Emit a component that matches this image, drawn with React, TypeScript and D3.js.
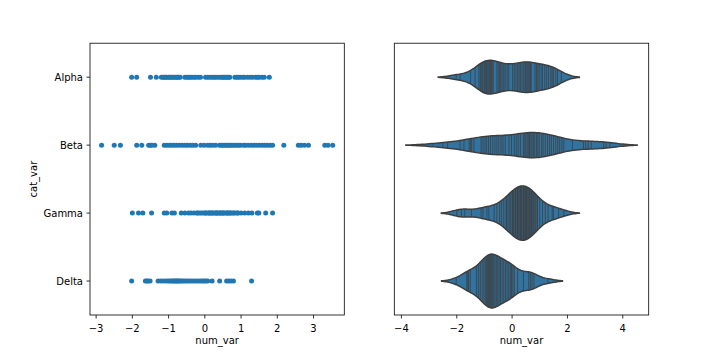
import React from "react";
import * as d3 from "d3";

const categories = ["Alpha", "Beta", "Gamma", "Delta"];

const alphaValues = [
  -2.02, -1.88, -1.5, -1.34,
  -1.2, -1.15, -1.12, -1.08, -1.05, -1.0, -0.97, -0.93, -0.9, -0.86, -0.82, -0.78, -0.75, -0.72, -0.68,
  -0.55, -0.5, -0.45, -0.41, -0.36, -0.3, -0.25, -0.18, -0.12,
  0.02, 0.08, 0.14, 0.2, 0.25, 0.3, 0.36, 0.42, 0.47, 0.5, 0.54, 0.58, 0.62, 0.66, 0.69,
  0.83, 0.88, 0.93, 0.98, 1.05, 1.1, 1.18, 1.25, 1.32, 1.4, 1.45, 1.5, 1.58, 1.64,
  1.78,
];

const betaValues = [
  -2.85, -2.5, -2.33, -1.88, -1.74, -1.55, -1.5, -1.46, -1.38,
  -1.12, -1.05, -0.98, -0.92, -0.85, -0.78, -0.7, -0.62, -0.55, -0.48, -0.4, -0.33, -0.25,
  -0.11, -0.02, 0.08, 0.15, 0.22, 0.3,
  0.41, 0.46, 0.5, 0.55, 0.6, 0.63, 0.68, 0.72, 0.77, 0.82, 0.88, 0.93, 0.98,
  1.07, 1.12, 1.2, 1.28, 1.35, 1.42, 1.5, 1.58, 1.65, 1.72, 1.8, 1.87,
  2.18, 2.58, 2.66, 2.75, 2.86, 3.31, 3.4, 3.53,
];

const gammaValues = [
  -2.0, -1.83, -1.71, -1.47, -1.12, -1.05, -0.91, -0.84,
  -0.65, -0.55, -0.45, -0.38, -0.3, -0.22, -0.2, -0.15, -0.1, -0.05, 0.0, 0.02, 0.05, 0.1,
  0.12, 0.14, 0.18, 0.2, 0.22, 0.26, 0.3, 0.32, 0.33, 0.36, 0.4, 0.42, 0.44, 0.48, 0.5,
  0.52, 0.56, 0.6, 0.62, 0.64, 0.68, 0.7, 0.73, 0.78, 0.8, 0.85, 0.9, 0.92,
  1.0, 1.1, 1.2, 1.3, 1.45,
  1.49, 1.68, 1.87,
];

const deltaValues = [
  -2.02, -1.64, -1.6, -1.57, -1.51,
  -1.29, -1.22, -1.15, -1.08, -1.02, -0.97, -0.93, -0.89, -0.85, -0.82, -0.79, -0.76, -0.73,
  -0.7, -0.66, -0.62, -0.57, -0.52, -0.47, -0.42, -0.36, -0.3, -0.24, -0.18, -0.12, -0.06,
  -0.02, 0.03, 0.08,
  0.2, 0.41, 0.6, 0.66, 0.72, 0.79, 1.29,
];

const seriesValues = [alphaValues, betaValues, gammaValues, deltaValues];

const leftTicks = [-3, -2, -1, 0, 1, 2, 3];
const rightTicks = [-4, -2, 0, 2, 4];

const W = 720;
const H = 360;
const TOP = 43.2;
const BOTTOM = 315;
const LEFT_AX = [90, 344.3];
const RIGHT_AX = [394.3, 648.7];

const POINT_COLOR = "#1f77b4";
const VIOLIN_FILL = "#3274a1";
const GRAY = "#3f3f3f";
const FONT = "DejaVu Sans, sans-serif";
const BW_SCALE = 0.75;

function computeKde(values: number[]) {
  const n = values.length;
  const sd = d3.deviation(values) as number;
  const bw = Math.pow(n, -0.2) * sd * BW_SCALE;
  const lo = (d3.min(values) as number) - 2 * bw;
  const hi = (d3.max(values) as number) + 2 * bw;
  const support = d3.range(100).map((i) => lo + ((hi - lo) * i) / 99);
  const density = support.map(
    (x) =>
      d3.sum(values, (v) => Math.exp(-0.5 * ((x - v) / bw) ** 2)) /
      (n * bw * Math.sqrt(2 * Math.PI))
  );
  return { support, density };
}

function interp(x: number, xs: number[], ys: number[]) {
  if (x <= xs[0]) return ys[0];
  for (let i = 1; i < xs.length; i++) {
    if (x <= xs[i]) {
      const t = (x - xs[i - 1]) / (xs[i] - xs[i - 1]);
      return ys[i - 1] + t * (ys[i] - ys[i - 1]);
    }
  }
  return ys[ys.length - 1];
}

function withMargin(lo: number, hi: number) {
  const m = (hi - lo) * 0.05;
  return [lo - m, hi + m];
}

export default function App() {
  const allValues = seriesValues.flat();
  const yScale = d3
    .scaleBand<string>()
    .domain(categories)
    .range([TOP, BOTTOM])
    .paddingInner(0)
    .paddingOuter(0);
  const band = yScale.bandwidth();
  const yc = (c: string) => (yScale(c) as number) + band / 2;

  const xLeft = d3
    .scaleLinear()
    .domain(withMargin(d3.min(allValues) as number, d3.max(allValues) as number))
    .range(LEFT_AX);

  const kdes = seriesValues.map(computeKde);
  const supLo = d3.min(kdes, (k) => k.support[0]) as number;
  const supHi = d3.max(kdes, (k) => k.support[k.support.length - 1]) as number;
  const xRight = d3.scaleLinear().domain(withMargin(supLo, supHi)).range(RIGHT_AX);

  const maxDens = d3.max(kdes, (k) => d3.max(k.density) as number) as number;
  const halfW = band * 0.4;
  const wScale = d3.scaleLinear().domain([0, maxDens]).range([0, halfW]);

  const tickLen = 3.5;

  const renderXAxis = (scale: d3.ScaleLinear<number, number>, ticks: number[]) => (
    <g>
      {ticks.map((t) => (
        <g key={t}>
          <line
            x1={scale(t)}
            x2={scale(t)}
            y1={BOTTOM}
            y2={BOTTOM + tickLen}
            stroke="#000"
            strokeWidth={0.8}
          />
          <text
            x={scale(t)}
            y={BOTTOM + tickLen + 3.5 + 9.5}
            fontSize={10}
            fontFamily={FONT}
            textAnchor="middle"
            fill="#000"
          >
            {t < 0 ? "\u2212" + Math.abs(t) : String(t)}
          </text>
        </g>
      ))}
      <text
        x={(scale.range()[0] + scale.range()[1]) / 2}
        y={344}
        fontSize={10}
        fontFamily={FONT}
        textAnchor="middle"
        fill="#000"
      >
        num_var
      </text>
    </g>
  );

  return (
    <svg
      width={W}
      height={H}
      style={{ position: "absolute", left: 0, top: 0, background: "#fff" }}
    >
      <rect x={0} y={0} width={W} height={H} fill="#fff" />

      {/* Left: strip plot */}
      {categories.map((c, i) => (
        <g key={c}>
          {seriesValues[i].map((v, j) => (
            <circle key={j} cx={xLeft(v)} cy={yc(c)} r={2.5} fill={POINT_COLOR} />
          ))}
        </g>
      ))}
      <rect
        x={LEFT_AX[0]}
        y={TOP}
        width={LEFT_AX[1] - LEFT_AX[0]}
        height={BOTTOM - TOP}
        fill="none"
        stroke="#000"
        strokeWidth={0.8}
      />
      {categories.map((c) => (
        <g key={c}>
          <line
            x1={LEFT_AX[0] - tickLen}
            x2={LEFT_AX[0]}
            y1={yc(c)}
            y2={yc(c)}
            stroke="#000"
            strokeWidth={0.8}
          />
          <text
            x={LEFT_AX[0] - tickLen - 3.5}
            y={yc(c)}
            dy="0.36em"
            fontSize={10}
            fontFamily={FONT}
            textAnchor="end"
            fill="#000"
          >
            {c}
          </text>
        </g>
      ))}
      <text
        transform={`translate(37,${(TOP + BOTTOM) / 2}) rotate(-90)`}
        fontSize={10}
        fontFamily={FONT}
        textAnchor="middle"
        fill="#000"
      >
        cat_var
      </text>
      {renderXAxis(xLeft, leftTicks)}

      {/* Right: violins */}
      {categories.map((c, i) => {
        const k = kdes[i];
        const cy = yc(c);
        const idx = d3.range(k.support.length);
        const area = d3
          .area<number>()
          .x((j) => xRight(k.support[j]))
          .y0((j) => cy - wScale(k.density[j]))
          .y1((j) => cy + wScale(k.density[j]));
        return (
          <g key={c}>
            <path
              d={area(idx) as string}
              fill={VIOLIN_FILL}
              stroke={GRAY}
              strokeWidth={1.5}
            />
            {seriesValues[i].map((v, j) => {
              const h = wScale(interp(v, k.support, k.density));
              return (
                <line
                  key={j}
                  x1={xRight(v)}
                  x2={xRight(v)}
                  y1={cy - h}
                  y2={cy + h}
                  stroke={GRAY}
                  strokeWidth={0.8}
                />
              );
            })}
          </g>
        );
      })}
      <rect
        x={RIGHT_AX[0]}
        y={TOP}
        width={RIGHT_AX[1] - RIGHT_AX[0]}
        height={BOTTOM - TOP}
        fill="none"
        stroke="#000"
        strokeWidth={0.8}
      />
      {renderXAxis(xRight, rightTicks)}
    </svg>
  );
}
